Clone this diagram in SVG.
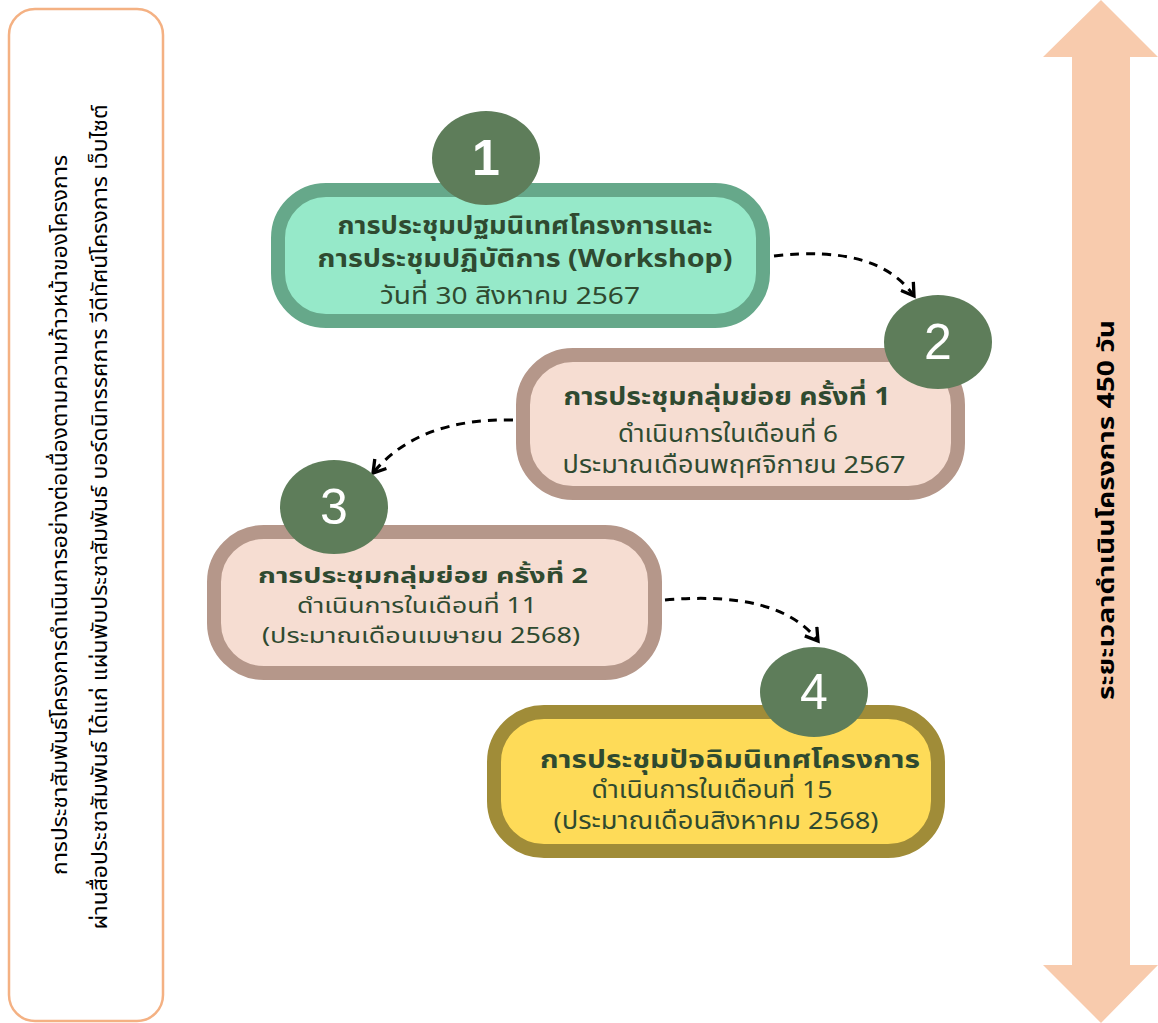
<svg xmlns="http://www.w3.org/2000/svg" width="1158" height="1023" viewBox="0 0 1158 1023">
<defs>
<style>
.th{font-family:"Noto Sans","Noto Sans Thai","Liberation Sans",sans-serif;}
.title{font-weight:bold;font-size:25px;fill:#2F4A30;text-anchor:middle;}
.sub{font-size:24px;fill:#2F4A30;text-anchor:middle;}
.tight .title{font-size:22px;}
.tight .sub{font-size:21px;}
.num{font-family:"Liberation Sans",sans-serif;font-size:50px;fill:#ffffff;text-anchor:middle;}
.badge{fill:#5E7D5A;}
.side{font-size:21px;fill:#000;text-anchor:middle;}
.conn{fill:none;stroke:#000;stroke-width:3;stroke-dasharray:9 7;}
</style>
<marker id="ah" viewBox="0 0 12 12" refX="9" refY="6" markerWidth="6" markerHeight="6" orient="auto" markerUnits="strokeWidth">
<path d="M1,1 L9,6 L1,11" fill="none" stroke="#000" stroke-width="2.2"/>
</marker>
</defs>
<rect width="1158" height="1023" fill="#ffffff"/>

<g id="side-panel">
<rect x="9" y="9" width="154" height="1012" rx="26" fill="#fff" stroke="#F4B183" stroke-width="2.5"/>
<text class="th side" transform="translate(67,515) rotate(-90)" textLength="720" lengthAdjust="spacingAndGlyphs">การประชาสัมพันธ์โครงการดำเนินการอย่างต่อเนื่องตามความก้าวหน้าของโครงการ</text>
<text class="th side" transform="translate(107,517) rotate(-90)" textLength="825" lengthAdjust="spacingAndGlyphs">ผ่านสื่อประชาสัมพันธ์ ได้แก่ แผ่นพับประชาสัมพันธ์ บอร์ดนิทรรศการ วีดีทัศน์โครงการ เว็บไซต์</text>
</g>

<g id="timeline-arrow">
<path d="M1101,0 L1158,57 L1130,57 L1130,965 L1158,965 L1101,1023 L1043,965 L1072,965 L1072,57 L1043,57 Z" fill="#F8CBAD"/>
<text class="th" transform="translate(1114,510) rotate(-90)" text-anchor="middle" font-size="23" font-weight="bold" fill="#000" textLength="380" lengthAdjust="spacingAndGlyphs">ระยะเวลาดำเนินโครงการ 450 วัน</text>
</g>

<g id="connectors">
<path class="conn" d="M774,256 Q878,244 914,296" marker-end="url(#ah)"/>
<path class="conn" d="M513,420 Q418,418 373,473" marker-end="url(#ah)"/>
<path class="conn" d="M665,600 Q780,590 818,641" marker-end="url(#ah)"/>
</g>

<g id="node1">
<rect x="278" y="190" width="485" height="131" rx="48" fill="#96E9C9" stroke="#66A88A" stroke-width="14"/>
<ellipse class="badge" cx="486" cy="158" rx="54" ry="47"/>
<text class="num" x="486" y="175" font-weight="bold">1</text>
<text class="th title" x="525" y="234" textLength="375" lengthAdjust="spacingAndGlyphs">การประชุมปฐมนิเทศโครงการและ</text>
<text class="th title" x="525" y="267" textLength="415" lengthAdjust="spacingAndGlyphs">การประชุมปฏิบัติการ (Workshop)</text>
<text class="th sub" x="510" y="304" textLength="260" lengthAdjust="spacingAndGlyphs">วันที่ 30 สิงหาคม 2567</text>
</g>

<g id="node2">
<rect x="523" y="355" width="435" height="138" rx="50" fill="#F6DDD2" stroke="#B5978A" stroke-width="14"/>
<ellipse class="badge" cx="938" cy="342" rx="54" ry="47"/>
<text class="num" x="938" y="359">2</text>
<text class="th title" x="727" y="405" textLength="327" lengthAdjust="spacingAndGlyphs">การประชุมกลุ่มย่อย ครั้งที่ 1</text>
<text class="th sub" x="728" y="442" textLength="220" lengthAdjust="spacingAndGlyphs">ดำเนินการในเดือนที่ 6</text>
<text class="th sub" x="734" y="473" textLength="343" lengthAdjust="spacingAndGlyphs">ประมาณเดือนพฤศจิกายน 2567</text>
</g>

<g id="node3" class="tight">
<rect x="214" y="532" width="441" height="141" rx="50" fill="#F6DDD2" stroke="#B5978A" stroke-width="14"/>
<ellipse class="badge" cx="334" cy="507" rx="54" ry="47"/>
<text class="num" x="334" y="524">3</text>
<text class="th title" x="423" y="583" textLength="330" lengthAdjust="spacingAndGlyphs">การประชุมกลุ่มย่อย ครั้งที่ 2</text>
<text class="th sub" x="417" y="613" textLength="240" lengthAdjust="spacingAndGlyphs">ดำเนินการในเดือนที่ 11</text>
<text class="th sub" x="421" y="643" textLength="318" lengthAdjust="spacingAndGlyphs">(ประมาณเดือนเมษายน 2568)</text>
</g>

<g id="node4">
<rect x="494" y="712" width="444" height="139" rx="50" fill="#FEDB58" stroke="#A08C38" stroke-width="14"/>
<ellipse class="badge" cx="814" cy="692" rx="54" ry="45"/>
<text class="num" x="814" y="709">4</text>
<text class="th title" x="730" y="768" textLength="380" lengthAdjust="spacingAndGlyphs">การประชุมปัจฉิมนิเทศโครงการ</text>
<text class="th sub" x="712" y="798" textLength="241" lengthAdjust="spacingAndGlyphs">ดำเนินการในเดือนที่ 15</text>
<text class="th sub" x="716" y="829" textLength="325" lengthAdjust="spacingAndGlyphs">(ประมาณเดือนสิงหาคม 2568)</text>
</g>
</svg>
